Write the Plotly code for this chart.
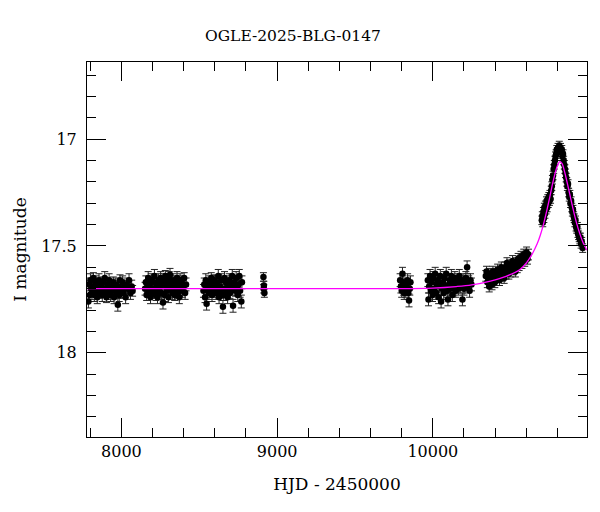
import plotly.graph_objects as go

# OGLE photometry: (HJD-2450000, I mag, error)
season1 = [
    (7788, 17.76, 0.03), (7792, 17.68, 0.03), (7797, 17.73, 0.03), (7801, 17.66, 0.03),
    (7806, 17.70, 0.025), (7811, 17.72, 0.03), (7815, 17.69, 0.03), (7820, 17.65, 0.025),
    (7826, 17.73, 0.03), (7831, 17.70, 0.03), (7836, 17.67, 0.03), (7840, 17.71, 0.025),
    (7845, 17.74, 0.03), (7851, 17.68, 0.03), (7856, 17.66, 0.03), (7861, 17.72, 0.025),
    (7866, 17.70, 0.03), (7872, 17.69, 0.03), (7877, 17.73, 0.03), (7882, 17.67, 0.025),
    (7888, 17.71, 0.03), (7893, 17.65, 0.03), (7899, 17.70, 0.03), (7904, 17.74, 0.025),
    (7910, 17.68, 0.03), (7915, 17.72, 0.03), (7921, 17.66, 0.03), (7926, 17.70, 0.025),
    (7931, 17.73, 0.03), (7937, 17.69, 0.03), (7942, 17.71, 0.03), (7948, 17.67, 0.025),
    (7953, 17.74, 0.03), (7958, 17.70, 0.03), (7964, 17.68, 0.03), (7969, 17.72, 0.025),
    (7977, 17.775, 0.03), (7980, 17.69, 0.03), (7986, 17.73, 0.03), (7991, 17.66, 0.025),
    (7997, 17.71, 0.03), (8002, 17.70, 0.03), (8008, 17.67, 0.03), (8014, 17.72, 0.025),
    (8020, 17.69, 0.03), (8027, 17.74, 0.03), (8034, 17.68, 0.03), (8041, 17.70, 0.025),
    (8049, 17.66, 0.03), (8058, 17.72, 0.03), (8066, 17.69, 0.03), (8072, 17.71, 0.025),
]
season2 = [
    (8152, 17.70, 0.03), (8157, 17.67, 0.03), (8162, 17.73, 0.025), (8167, 17.69, 0.03),
    (8172, 17.65, 0.03), (8177, 17.71, 0.03), (8182, 17.68, 0.025), (8187, 17.74, 0.03),
    (8192, 17.66, 0.03), (8197, 17.70, 0.03), (8202, 17.72, 0.025), (8207, 17.67, 0.03),
    (8212, 17.64, 0.03), (8217, 17.70, 0.03), (8222, 17.73, 0.025), (8227, 17.68, 0.03),
    (8232, 17.74, 0.03), (8237, 17.66, 0.03), (8242, 17.71, 0.025), (8247, 17.69, 0.03),
    (8252, 17.65, 0.03), (8257, 17.72, 0.03), (8262, 17.68, 0.025), (8267, 17.765, 0.03),
    (8272, 17.66, 0.03), (8277, 17.73, 0.03), (8282, 17.64, 0.025), (8287, 17.69, 0.03),
    (8292, 17.71, 0.03), (8297, 17.67, 0.03), (8302, 17.74, 0.025), (8307, 17.65, 0.03),
    (8312, 17.635, 0.03), (8317, 17.70, 0.03), (8322, 17.68, 0.025), (8327, 17.72, 0.03),
    (8332, 17.66, 0.03), (8337, 17.69, 0.03), (8342, 17.73, 0.025), (8347, 17.67, 0.03),
    (8352, 17.70, 0.03), (8357, 17.65, 0.03), (8362, 17.72, 0.025), (8367, 17.68, 0.03),
    (8372, 17.74, 0.03), (8377, 17.66, 0.03), (8382, 17.70, 0.025), (8387, 17.67, 0.03),
    (8392, 17.71, 0.03), (8397, 17.69, 0.03), (8403, 17.65, 0.025), (8409, 17.72, 0.03),
    (8415, 17.68, 0.03),
]
season3 = [
    (8527, 17.71, 0.03), (8532, 17.68, 0.03), (8537, 17.74, 0.025), (8542, 17.66, 0.03),
    (8547, 17.77, 0.03), (8552, 17.70, 0.03), (8557, 17.69, 0.025), (8562, 17.72, 0.03),
    (8567, 17.67, 0.03), (8572, 17.70, 0.03), (8577, 17.65, 0.025), (8582, 17.73, 0.03),
    (8587, 17.69, 0.03), (8592, 17.71, 0.03), (8597, 17.66, 0.025), (8602, 17.68, 0.03),
    (8607, 17.72, 0.03), (8612, 17.67, 0.03), (8617, 17.70, 0.025), (8622, 17.64, 0.03),
    (8627, 17.74, 0.03), (8632, 17.69, 0.03), (8637, 17.72, 0.025), (8642, 17.66, 0.03),
    (8647, 17.70, 0.03), (8652, 17.785, 0.03), (8657, 17.73, 0.025), (8662, 17.65, 0.03),
    (8667, 17.70, 0.03), (8672, 17.67, 0.03), (8677, 17.71, 0.025), (8682, 17.74, 0.03),
    (8687, 17.69, 0.03), (8692, 17.66, 0.03), (8697, 17.72, 0.025), (8702, 17.68, 0.03),
    (8707, 17.70, 0.03), (8712, 17.64, 0.03), (8717, 17.78, 0.03), (8722, 17.69, 0.03),
    (8727, 17.67, 0.03), (8732, 17.71, 0.025), (8737, 17.65, 0.03), (8742, 17.70, 0.03),
    (8747, 17.73, 0.03), (8752, 17.68, 0.025), (8757, 17.64, 0.03), (8762, 17.71, 0.03),
    (8770, 17.76, 0.03), (8774, 17.67, 0.03),
]
season4 = [
    (8912, 17.645, 0.02), (8915, 17.685, 0.02), (8918, 17.72, 0.02), (8914, 17.70, 0.02),
]
season5 = [
    (9790, 17.66, 0.03), (9795, 17.69, 0.03), (9800, 17.71, 0.03), (9805, 17.63, 0.03),
    (9808, 17.67, 0.03), (9812, 17.70, 0.03), (9816, 17.72, 0.03), (9820, 17.68, 0.03),
    (9826, 17.71, 0.03), (9832, 17.69, 0.03), (9838, 17.66, 0.03), (9842, 17.72, 0.03),
    (9847, 17.755, 0.03), (9852, 17.70, 0.03), (9856, 17.67, 0.03),
]
season6 = [
    (9968, 17.66, 0.03), (9972, 17.75, 0.03), (9976, 17.69, 0.03), (9982, 17.64, 0.03),
    (9987, 17.71, 0.03), (9993, 17.67, 0.03), (9998, 17.73, 0.03), (10004, 17.65, 0.03),
    (10009, 17.70, 0.03), (10015, 17.63, 0.03), (10020, 17.72, 0.03), (10026, 17.68, 0.03),
    (10031, 17.66, 0.03), (10037, 17.74, 0.03), (10042, 17.69, 0.03), (10048, 17.64, 0.03),
    (10053, 17.76, 0.03), (10059, 17.70, 0.03), (10064, 17.67, 0.03), (10070, 17.72, 0.03),
    (10075, 17.65, 0.03), (10081, 17.69, 0.03), (10086, 17.63, 0.03), (10092, 17.71, 0.03),
    (10097, 17.75, 0.03), (10103, 17.68, 0.03), (10108, 17.66, 0.03), (10114, 17.70, 0.03),
    (10119, 17.64, 0.03), (10125, 17.73, 0.03), (10130, 17.67, 0.03), (10136, 17.69, 0.03),
    (10141, 17.65, 0.03), (10147, 17.71, 0.03), (10152, 17.68, 0.03), (10158, 17.66, 0.03),
    (10164, 17.70, 0.03), (10170, 17.64, 0.03), (10176, 17.69, 0.03), (10182, 17.67, 0.03),
    (10190, 17.75, 0.03), (10194, 17.66, 0.03), (10200, 17.70, 0.03), (10206, 17.68, 0.03),
    (10212, 17.65, 0.03), (10220, 17.60, 0.03), (10224, 17.69, 0.03), (10230, 17.67, 0.03),
    (10236, 17.71, 0.03), (10242, 17.66, 0.03), (10248, 17.68, 0.03),
]
season7 = [
    (10340, 17.64, 0.025), (10345, 17.62, 0.025), (10350, 17.67, 0.025), (10356, 17.65, 0.025),
    (10362, 17.69, 0.025), (10368, 17.63, 0.025), (10374, 17.66, 0.025), (10380, 17.68, 0.025),
    (10386, 17.62, 0.025), (10392, 17.65, 0.025), (10398, 17.67, 0.025), (10404, 17.63, 0.025),
    (10410, 17.66, 0.025), (10416, 17.61, 0.025), (10422, 17.64, 0.025), (10428, 17.66, 0.025),
    (10434, 17.62, 0.025), (10440, 17.60, 0.025), (10446, 17.64, 0.025), (10452, 17.62, 0.025),
    (10458, 17.65, 0.025), (10464, 17.60, 0.025), (10470, 17.63, 0.025), (10476, 17.58, 0.025),
    (10482, 17.61, 0.025), (10488, 17.63, 0.025), (10494, 17.59, 0.025), (10500, 17.62, 0.025),
    (10506, 17.60, 0.025), (10512, 17.57, 0.025), (10518, 17.61, 0.025), (10524, 17.59, 0.025),
    (10530, 17.62, 0.025), (10536, 17.58, 0.025), (10542, 17.60, 0.025), (10548, 17.56, 0.025),
    (10554, 17.59, 0.025), (10560, 17.57, 0.025), (10566, 17.55, 0.025), (10572, 17.58, 0.025),
    (10578, 17.56, 0.025), (10584, 17.54, 0.025), (10590, 17.57, 0.025), (10596, 17.55, 0.025),
    (10602, 17.53, 0.025), (10608, 17.56, 0.025), (10614, 17.54, 0.025),
]
season8 = [
    (10700, 17.38, 0.02), (10703, 17.36, 0.02), (10706, 17.39, 0.02), (10710, 17.34, 0.02),
    (10713, 17.37, 0.02), (10716, 17.32, 0.02), (10720, 17.35, 0.02), (10723, 17.31, 0.02),
    (10727, 17.33, 0.02), (10730, 17.29, 0.02), (10734, 17.32, 0.02), (10738, 17.28, 0.02),
    (10741, 17.30, 0.02), (10745, 17.27, 0.02), (10749, 17.29, 0.02), (10752, 17.26, 0.02),
    (10756, 17.28, 0.02), (10760, 17.24, 0.02), (10764, 17.22, 0.02), (10768, 17.19, 0.02),
    (10772, 17.17, 0.02), (10776, 17.14, 0.02), (10780, 17.12, 0.02), (10784, 17.10, 0.02),
    (10788, 17.08, 0.02), (10792, 17.07, 0.02), (10796, 17.05, 0.02), (10800, 17.06, 0.02),
    (10804, 17.04, 0.02), (10808, 17.05, 0.02), (10812, 17.03, 0.02), (10816, 17.05, 0.02),
    (10820, 17.04, 0.02), (10824, 17.06, 0.02), (10828, 17.05, 0.02), (10832, 17.08, 0.02),
    (10836, 17.07, 0.02), (10840, 17.10, 0.02), (10844, 17.12, 0.02), (10848, 17.14, 0.02),
    (10852, 17.16, 0.02), (10856, 17.18, 0.02), (10860, 17.20, 0.02), (10864, 17.22, 0.02),
    (10868, 17.21, 0.02), (10872, 17.25, 0.02), (10876, 17.27, 0.02), (10880, 17.26, 0.02),
    (10884, 17.30, 0.02), (10888, 17.29, 0.02), (10892, 17.32, 0.02), (10896, 17.34, 0.02),
    (10900, 17.33, 0.02), (10904, 17.36, 0.02), (10908, 17.37, 0.02), (10912, 17.39, 0.02),
    (10916, 17.38, 0.02), (10920, 17.41, 0.02), (10924, 17.42, 0.02), (10928, 17.41, 0.02),
    (10932, 17.44, 0.02), (10936, 17.45, 0.02), (10940, 17.46, 0.02), (10944, 17.47, 0.02),
    (10948, 17.46, 0.02), (10952, 17.49, 0.02), (10956, 17.48, 0.02), (10962, 17.51, 0.02),
]

# microlensing model curve
model_t = [7779, 8500, 9000, 9500, 9800, 10000, 10150, 10250, 10370, 10470, 10560,
           10600, 10640, 10670, 10690, 10710, 10730, 10750, 10770, 10785, 10800,
           10815, 10830, 10845, 10860, 10880, 10900, 10920, 10945, 10965, 10990]
model_m = [17.70, 17.70, 17.70, 17.70, 17.70, 17.697, 17.69, 17.682, 17.664, 17.642, 17.61,
           17.58, 17.535, 17.49, 17.45, 17.40, 17.34, 17.275, 17.205, 17.16, 17.125,
           17.105, 17.115, 17.15, 17.195, 17.26, 17.325, 17.385, 17.445, 17.485, 17.52]

x_range = [7779, 10990]
y_range = [18.394, 16.639]

points = season1 + season2 + season3 + season4 + season5 + season6 + season7 + season8
hjd = [p[0] for p in points]
mag = [p[1] for p in points]
err = [p[2] for p in points]

FONT = "DejaVu Serif"

fig = go.Figure()

fig.add_trace(go.Scatter(
    x=hjd, y=mag,
    mode='markers',
    marker=dict(color='black', size=6.5),
    error_y=dict(type='data', array=err, color='#222222', thickness=1, width=3.5),
    showlegend=False, hoverinfo='skip',
))

fig.add_trace(go.Scatter(
    x=model_t, y=model_m,
    mode='lines',
    line=dict(color='#ff00ff', width=1.3, shape='spline'),
    showlegend=False, hoverinfo='skip',
))

tick_style = dict(
    showline=True, linecolor='black', linewidth=1, mirror='allticks',
    ticks='inside', ticklen=19, tickcolor='black', tickwidth=1,
    showgrid=False, zeroline=False, automargin=False,
    tickfont=dict(family=FONT, size=16, color='black'),
)

fig.update_layout(
    xaxis=dict(
        **tick_style, range=x_range, tick0=0, dtick=1000, tickformat='d',
        minor=dict(ticks='inside', ticklen=9, dtick=200, tick0=0, tickcolor='black',
                   showgrid=False),
        title=dict(text='HJD - 2450000', font=dict(family=FONT, size=17, color='black'),
                   standoff=17),
    ),
    yaxis=dict(
        **tick_style, range=y_range, tick0=0, dtick=0.5,
        minor=dict(ticks='inside', ticklen=9, dtick=0.1, tick0=0, tickcolor='black',
                   showgrid=False),
        ticklabelstandoff=6,
        title=dict(text='I magnitude', font=dict(family=FONT, size=17, color='black'),
                   standoff=10),
    ),
    title=dict(text='OGLE-2025-BLG-0147', x=0.475, xref='container', y=0.947,
               yanchor='middle', font=dict(family=FONT, size=15.5, color='black')),
    width=600, height=512,
    margin=dict(l=79, r=21, t=54, b=83),
    plot_bgcolor='white', paper_bgcolor='white',
)

fig.write_html("out.html")
